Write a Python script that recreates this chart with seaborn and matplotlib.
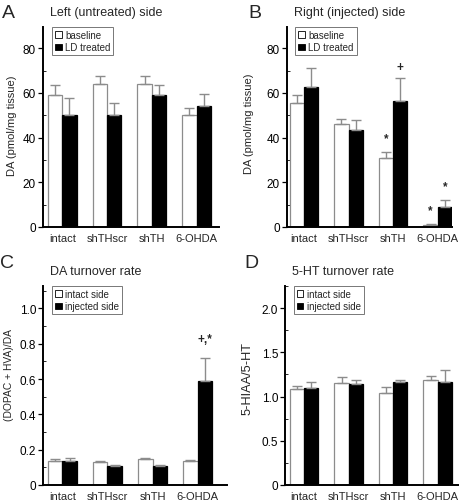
import numpy as np
import pandas as pd
import matplotlib
matplotlib.use("Agg")
import matplotlib.pyplot as plt
from matplotlib.patches import Patch
from matplotlib.ticker import MultipleLocator
from matplotlib.container import BarContainer
import seaborn as sns

sns.set_theme(style="ticks")
plt.rcParams['font.family'] = ['Liberation Sans', 'DejaVu Sans']

groups = ["intact", "shTHscr", "shTH", "6-OHDA"]

# Panel A: Left (untreated) side, DA
a_base = [59.2, 64.1, 63.8, 50.2]
a_base_err = [4.3, 3.3, 3.6, 2.9]
a_ld = [50.2, 50.2, 58.9, 54.0]
a_ld_err = [7.5, 5.1, 4.5, 5.5]

# Panel B: Right (injected) side, DA
b_base = [55.3, 46.3, 30.8, 0.9]
b_base_err = [3.9, 2.1, 2.8, 0.6]
b_ld = [62.5, 43.2, 56.3, 9.0]
b_ld_err = [8.7, 4.6, 10.3, 3.1]
b_base_marks = ["", "", "*", "*"]
b_ld_marks = ["", "", "+", "*"]

# Panel C: DA turnover rate
c_intact = [0.138, 0.128, 0.148, 0.138]
c_intact_err = [0.010, 0.008, 0.006, 0.004]
c_inj = [0.135, 0.108, 0.108, 0.587]
c_inj_err = [0.018, 0.006, 0.003, 0.135]
c_inj_marks = ["", "", "", "+,*"]

# Panel D: 5-HT turnover rate
d_intact = [1.09, 1.15, 1.04, 1.19]
d_intact_err = [0.03, 0.07, 0.07, 0.04]
d_inj = [1.10, 1.14, 1.16, 1.17]
d_inj_err = [0.07, 0.05, 0.03, 0.13]

W, H = 460, 502
fig = plt.figure(figsize=(W / 100, H / 100), dpi=100)

MARK_OFF = {"*": 10, "+": 8, "+,*": 13}


def px_axes(l, t, r, b):
    return fig.add_axes([l / W, 1 - b / H, (r - l) / W, (b - t) / H])


def panel(ax, v1, e1, v2, e2, names, ylim, major, minor, ylabel, title, letter,
          xlim, marks1=None, marks2=None, decimals=0, letter_y=1.07,
          ylabel_pos=(-0.16, 0.5), ylabel_size=8):
    df = pd.DataFrame({
        "group": groups * 2,
        "value": list(v1) + list(v2),
        "cond": [names[0]] * 4 + [names[1]] * 4,
    })
    sns.barplot(data=df, x="group", y="value", hue="cond", order=groups,
                hue_order=names, palette=["white", "black"], width=0.64,
                errorbar=None, ax=ax, legend=False, saturation=1)
    errs = [e1, e2]
    marks = [marks1, marks2]
    edgec = ["#8c8c8c", "black"]
    bars = [c for c in ax.containers if isinstance(c, BarContainer)]
    for k, cont in enumerate(bars):
        for i, p in enumerate(cont.patches):
            p.set_edgecolor(edgec[k])
            p.set_linewidth(0.9)
            x = p.get_x() + p.get_width() / 2
            y = p.get_height()
            ax.errorbar([x], [y], yerr=[[0], [errs[k][i]]], fmt="none",
                        ecolor="#8c8c8c", elinewidth=1.0, capsize=3.4,
                        capthick=1.0, zorder=1)
            if marks[k] is not None and marks[k][i]:
                m = marks[k][i]
                ax.annotate(m, (x, y + errs[k][i]),
                            xytext=(0, MARK_OFF[m]), textcoords="offset points",
                            ha="center", va="center", fontsize=8.5,
                            fontweight="bold")
    ax.set_ylim(*ylim)
    ax.set_xlim(*xlim)
    ax.yaxis.set_major_locator(MultipleLocator(major))
    ax.yaxis.set_minor_locator(MultipleLocator(minor))
    ax.tick_params(axis="y", which="major", direction="out", length=3.5,
                   width=0.9, labelsize=8.5, pad=1.5, colors="black")
    ax.tick_params(axis="y", which="minor", direction="in", length=2.5,
                   width=0.7, left=True)
    ax.tick_params(axis="x", length=0, labelsize=8, pad=4)
    ax.yaxis.set_major_formatter(
        matplotlib.ticker.FuncFormatter(
            lambda v, p: "0" if abs(v) < 1e-9 else f"{v:.{decimals}f}"))
    for s in ["top", "right"]:
        ax.spines[s].set_visible(False)
    for s in ["left", "bottom"]:
        ax.spines[s].set_linewidth(1.4)
        ax.spines[s].set_color("black")
    ax.set_xlabel("")
    ax.set_ylabel(ylabel, fontsize=ylabel_size)
    ax.yaxis.set_label_coords(*ylabel_pos)
    ax.set_title(title, fontsize=9, loc="left", x=0.04, pad=8.5)
    ax.text(-0.233, letter_y, letter, transform=ax.transAxes, fontsize=14,
            va="center", ha="left")
    handles = [Patch(facecolor="white", edgecolor="black", linewidth=0.6),
               Patch(facecolor="black", edgecolor="black", linewidth=0.6)]
    leg = ax.legend(handles, names, loc="upper left",
                    bbox_to_anchor=(0.05, 1.0), fontsize=7, frameon=True,
                    fancybox=False, edgecolor="#555555", handlelength=0.7,
                    handleheight=0.7, handletextpad=0.35, borderpad=0.3,
                    labelspacing=0.25, borderaxespad=0)
    leg.get_frame().set_linewidth(0.7)
    leg.set_zorder(5)


axA = px_axes(43, 28, 219, 228)
panel(axA, a_base, a_base_err, a_ld, a_ld_err, ["baseline", "LD treated"],
      (0, 89.5), 20, 10, "DA (pmol/mg tissue)", "Left (untreated) side", "A",
      (-0.43, 3.5), letter_y=1.07, ylabel_pos=(-0.147, 0.51))

axB = px_axes(287, 28, 452, 228)
panel(axB, b_base, b_base_err, b_ld, b_ld_err, ["baseline", "LD treated"],
      (0, 89.5), 20, 10, "DA (pmol/mg tissue)", "Right (injected) side", "B",
      (-0.38, 3.32), b_base_marks, b_ld_marks, letter_y=1.07,
      ylabel_pos=(-0.199, 0.52))

axC = px_axes(43, 287, 227, 486)
panel(axC, c_intact, c_intact_err, c_inj, c_inj_err,
      ["intact side", "injected side"], (0, 1.127), 0.2, 0.1,
      "(DOPAC + HVA)/DA", "DA turnover rate", "C", (-0.43, 3.65),
      None, c_inj_marks, decimals=1, letter_y=1.12,
      ylabel_pos=(-0.16, 0.56), ylabel_size=7.4)

axD = px_axes(285, 287, 460, 486)
panel(axD, d_intact, d_intact_err, d_inj, d_inj_err,
      ["intact side", "injected side"], (0, 2.25), 0.5, 0.25,
      "5-HIAA/5-HT", "5-HT turnover rate", "D", (-0.43, 3.5), decimals=1,
      letter_y=1.12, ylabel_pos=(-0.179, 0.54), ylabel_size=9.2)

fig.savefig("out.png", dpi=100)
